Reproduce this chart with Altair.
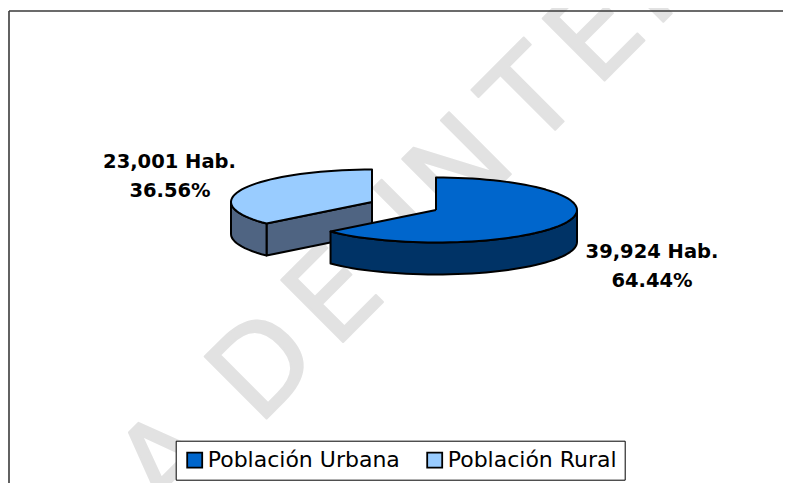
import math
import altair as alt
import pandas as pd

categories = ["Población Urbana", "Población Rural"]
habitants = [39924, 23001]
colors_top = ["#0066CC", "#99CCFF"]
colors_side = ["#003366", "#4F6482"]

label_lines = ["23,001 Hab.", "36.56%", "39,924 Hab.", "64.44%"]
label_x = [169.5, 170, 652, 652]
label_y = [167.5, 196.5, 257.5, 286.5]

mark_letters = ["A", "D", "E", "I", "N", "T", "E", "R"]
mark_along = [-249, -119, -11, 119, 160, 270, 359, 442]

RX, RY, DEPTH = 141, 32.5, 32
URBAN_C = (436, 210)
RURAL_C = (372, 202)

XS = alt.Scale(domain=[8, 783], range=[0, 775], nice=False, zero=False)
YS = alt.Scale(domain=[483, 8], range=[475, 0], nice=False, zero=False)
X = lambda f: alt.X(f, type="quantitative", scale=XS, axis=None)
Y = lambda f: alt.Y(f, type="quantitative", scale=YS, axis=None)

A = 360 * habitants[0] / sum(habitants)


def rim(c, t, dy=0):
    r = math.radians(t)
    return (c[0] + RX * math.sin(r), c[1] - RY * math.cos(r) + dy)


def arc(c, a, b, dy=0, step=3):
    n = max(2, int(abs(b - a) / step) + 1)
    return [rim(c, a + (b - a) * i / (n - 1), dy) for i in range(n)]


def shape(points, fill):
    pts = list(points) + [points[0]]
    df = pd.DataFrame({"x": [p[0] for p in pts], "y": [p[1] for p in pts], "i": range(len(pts))})
    return alt.Chart(df).mark_line(
        fill=fill, stroke="black", strokeWidth=2, strokeJoin="round", clip=False
    ).encode(x=X("x"), y=Y("y"), order=alt.Order("i:Q"))


# watermark
wm = pd.DataFrame({
    "t": mark_letters,
    "x": [(685 + u * math.sqrt(2)) / 2 for u in mark_along],
    "y": [(685 - u * math.sqrt(2)) / 2 for u in mark_along],
})
watermark = alt.Chart(wm).mark_text(
    font="DejaVu Sans", fontSize=120, angle=315, align="left", baseline="alphabetic",
    fill="#E2E2E2", stroke="#E2E2E2", strokeWidth=2, strokeJoin="round",
).encode(x=X("x"), y=Y("y"), text="t:N")

# frame
frame_h = alt.Chart(pd.DataFrame({"x": [9], "x2": [783], "y": [11]})).mark_rule(
    color="#3A3A3A", strokeWidth=1.6
).encode(x=X("x"), x2="x2", y=Y("y"))
frame_v = alt.Chart(pd.DataFrame({"x": [9], "y": [11], "y2": [483]})).mark_rule(
    color="#3A3A3A", strokeWidth=1.6
).encode(x=X("x"), y=Y("y"), y2="y2")

# rural slice
rc = RURAL_C
rp = rim(rc, A)
r_cut = shape([rc, rp, (rp[0], rp[1] + DEPTH), (rc[0], rc[1] + DEPTH)], colors_side[1])
r_wall = shape(arc(rc, A, 270) + arc(rc, 270, A, DEPTH), colors_side[1])
r_top = shape([rc] + arc(rc, A, 360), colors_top[1])

# urban slice
uc = URBAN_C
u_wall = shape(arc(uc, 90, A) + arc(uc, A, 90, DEPTH), colors_side[0])
u_top = shape([uc] + arc(uc, 0, A), colors_top[0])

# labels
labels = alt.Chart(pd.DataFrame({"t": label_lines, "x": label_x, "y": label_y})).mark_text(
    font="DejaVu Sans", fontSize=19.5, fontWeight="bold", color="black",
    align="center", baseline="alphabetic",
).encode(x=X("x"), y=Y("y"), text="t:N")

# legend
legend_src = alt.Chart(pd.DataFrame({"c": categories, "v": habitants})).mark_square(
    size=0, opacity=0
).encode(
    x=alt.value(0), y=alt.value(0),
    fill=alt.Fill(
        "c:N",
        scale=alt.Scale(domain=categories, range=colors_top),
        legend=alt.Legend(
            title=None, orient="none", direction="horizontal", columns=2,
            legendX=167.7, legendY=432.7,
            fillColor="white", strokeColor="black", padding=8,
            symbolType="square", symbolSize=225, symbolOpacity=1,
            symbolStrokeColor="black", symbolStrokeWidth=1.8,
            labelFont="DejaVu Sans", labelFontSize=22, labelColor="black",
            labelOpacity=1, labelOffset=2, columnPadding=22, gridAlign="each",
            labelLimit=300,
        ),
    ),
)

chart = alt.layer(
    watermark, frame_h, frame_v, r_cut, r_wall, r_top, u_wall, u_top, labels, legend_src
).properties(
    width=775, height=475, padding=0,
    autosize=alt.AutoSizeParams(type="none"),
    background="white",
).configure_view(stroke=None)

chart.save("out.html", embed_options={"renderer": "svg", "actions": False})
